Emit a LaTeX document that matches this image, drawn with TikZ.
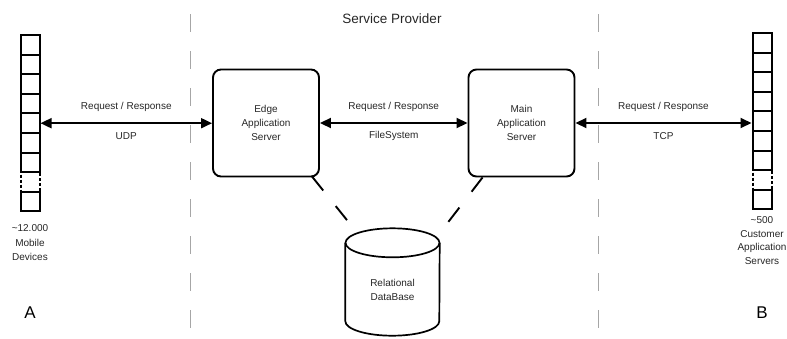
\documentclass[tikz,border=0pt]{standalone}
\usepackage{fontspec}
\setmainfont{Liberation Sans}
\usetikzlibrary{arrows.meta,calc,positioning}
\tikzset{
  server/.style = {draw, line width=1.9pt, rounded corners=8pt, minimum width=106pt,
    minimum height=107pt, align=center, text=black!85, font=\fontsize{10}{14}\selectfont},
  slot/.style   = {draw, line width=2pt, minimum width=19pt, minimum height=19.6pt, inner sep=0pt},
  gapslot/.style = {slot, dash pattern=on 3pt off 2pt},
  dbframe/.style = {minimum width=94pt, minimum height=107pt, inner sep=0pt},
  dbline/.style = {line width=1.7pt},
  link/.style   = {line width=1.8pt, {Triangle[length=11pt,width=10pt]}-{Triangle[length=11pt,width=10pt]}},
  lbl/.style    = {text=black!85, font=\fontsize{10}{12}\selectfont},
  zone/.style   = {draw=black!35, line width=0.8pt, dash pattern=on 18pt off 19pt},
  dblink/.style = {line width=1.9pt, dash pattern=on 18pt off 20pt}
}
\begin{document}
\begin{tikzpicture}[x=1pt, y=-1pt]
  \useasboundingbox (0,0) rectangle (787,338);

  % provider zone
  \draw[zone] (190,14) -- (190,338);
  \draw[zone] (598,14) -- (598,338);
  \node[text=black!85, font=\fontsize{13.5}{16}\selectfont] (provider) at (392,19) {Service Provider};

  % servers
  \node[server] (edge) at (266,123) {Edge\\Application\\Server};
  \node[server] (main) at (521.5,123) {Main\\Application\\Server};

  % database
  \node[dbframe] (db) at (392.5,282) {};
  \draw[dbline] ($(db.north)+(0,14.5)$) ellipse [x radius=47, y radius=14.5];
  \draw[dbline] ($(db.north west)+(0,14.5)$) -- ($(db.south west)+(0,-14.5)$)
    arc [start angle=180, end angle=0, x radius=47, y radius=14.5] -- ($(db.north east)+(0,14.5)$);
  \node[lbl, align=center, font=\fontsize{10}{14}\selectfont] (dbtxt) at ($(db.center)+(0,8)$)
    {Relational\\DataBase};

  % clients on both ends
  \foreach \i/\kind in {1/slot,2/slot,3/slot,4/slot,5/slot,6/slot,7/slot,8/gapslot,9/slot} {
    \node[\kind] (mob\i) at (30,{35+19.6*(\i-0.5)}) {};
    \node[\kind] (cust\i) at (762,{33+19.6*(\i-0.5)}) {};
  }
  \node[lbl, align=center, font=\fontsize{10}{14.5}\selectfont, below=9pt of mob9] (mobtxt)
    {\textasciitilde12.000\\Mobile\\Devices};
  \node[lbl, align=center, font=\fontsize{10}{13.5}\selectfont, below=3pt of cust9] (custtxt)
    {\textasciitilde500\\Customer\\Application\\Servers};
  \node[font=\fontsize{17}{20}\selectfont] (sideA) at (30,313) {A};
  \node[font=\fontsize{17}{20}\selectfont] (sideB) at (762,313) {B};

  % links
  \draw[link] (mob5.east) -- (mob5.east -| edge.west)
    node[lbl, midway, yshift=16pt] {Request / Response}
    node[lbl, midway, yshift=-13pt] {UDP};
  \draw[link] (edge.east) -- (main.west)
    node[lbl, midway, yshift=16pt] {Request / Response}
    node[lbl, midway, yshift=-13pt] {FileSystem};
  \draw[link] (main.east) -- (main.east -| cust5.west)
    node[lbl, midway, yshift=16pt] {Request / Response}
    node[lbl, midway, yshift=-13pt] {TCP};
  \draw[dblink] ($(edge.south east)+(-8,-1)$) -- ($(db.center)+(-44,-60)$);
  \draw[dblink] ($(main.south west)+(15,0)$) -- ($(db.center)+(55,-59)$);
\end{tikzpicture}
\end{document}
